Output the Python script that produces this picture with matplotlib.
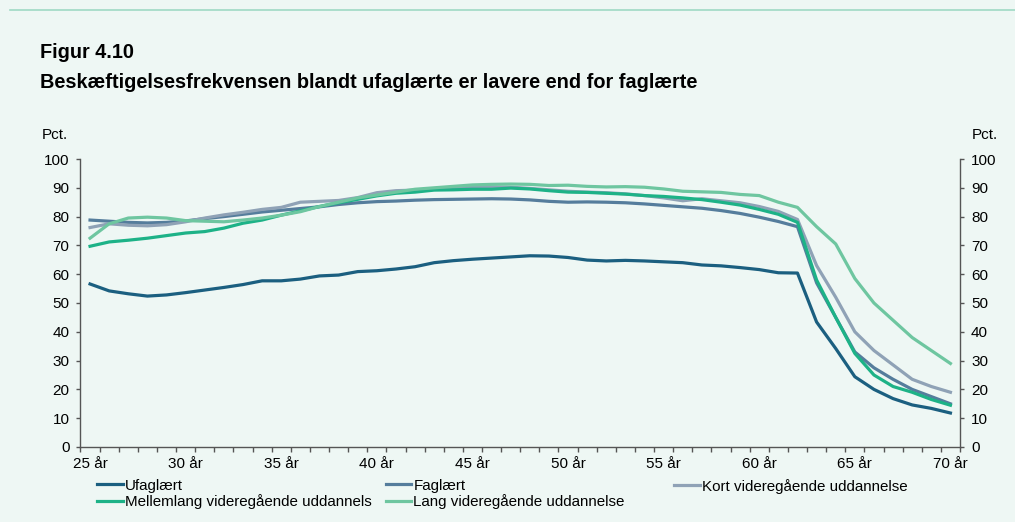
import matplotlib
matplotlib.use("Agg")
import matplotlib.pyplot as plt
import numpy as np
from matplotlib.lines import Line2D

plt.rcParams["font.family"] = ["Liberation Sans", "DejaVu Sans"]

BG = "#EEF7F4"

ages = np.arange(25, 71)
tick_ages = [25, 30, 35, 40, 45, 50, 55, 60, 65, 70]
tick_labels = [f"{a} år" for a in tick_ages]

ufaglaert = [56.6, 54.2, 53.2, 52.4, 52.8, 53.6, 54.5, 55.4, 56.4, 57.7, 57.7, 58.3, 59.4, 59.7,
             60.9, 61.2, 61.8, 62.6, 64.0, 64.7, 65.2, 65.6, 66.0, 66.4, 66.3, 65.8, 64.9, 64.6,
             64.8, 64.6, 64.3, 64.0, 63.2, 62.9, 62.3, 61.6, 60.5, 60.4, 43.4, 34.2, 24.4, 20.0,
             16.8, 14.6, 13.4, 11.8]
faglaert = [78.8, 78.4, 78.0, 77.8, 78.0, 78.5, 79.3, 80.0, 80.8, 81.6, 82.2, 82.8, 83.4, 84.2,
            84.8, 85.2, 85.4, 85.7, 85.9, 86.0, 86.1, 86.2, 86.1, 85.8, 85.3, 85.0, 85.1, 85.0,
            84.8, 84.4, 83.9, 83.4, 82.9, 82.1, 81.1, 79.8, 78.3, 76.5, 57.0, 45.0, 33.0, 27.5,
            23.5, 20.0, 17.5, 15.0]
kort = [76.2, 77.5, 77.0, 76.8, 77.2, 78.2, 79.5, 80.6, 81.5, 82.5, 83.2, 85.0, 85.3, 85.6,
        86.6, 88.3, 89.0, 89.2, 89.6, 90.0, 90.2, 90.3, 90.2, 89.8, 89.3, 88.8, 88.5, 88.3,
        87.9, 87.3, 86.5, 85.5, 86.2, 85.5, 84.8, 83.5, 81.8, 79.0, 63.0, 52.0, 40.0, 33.5,
        28.5, 23.5, 21.0, 19.0]
mellemlang = [69.7, 71.2, 71.8, 72.5, 73.4, 74.3, 74.8, 76.0, 77.7, 78.8, 80.5, 82.0, 83.5, 84.8,
              86.0, 87.2, 88.1, 88.5, 89.2, 89.3, 89.5, 89.5, 89.9, 89.6, 89.0, 88.5, 88.4, 88.1,
              87.8, 87.3, 87.0, 86.5, 85.9, 85.0, 84.0, 82.5, 80.8, 78.0, 58.0, 45.0, 32.5, 25.0,
              21.0, 19.0, 16.5, 14.5]
lang = [72.5, 77.5, 79.5, 79.8, 79.5, 78.6, 78.4, 78.2, 78.8, 79.5, 80.5, 81.7, 83.5, 85.0,
        86.5, 87.5, 88.5, 89.5, 90.0, 90.5, 91.0, 91.2, 91.3, 91.2, 90.8, 90.9, 90.5, 90.3,
        90.4, 90.2, 89.6, 88.8, 88.6, 88.4, 87.7, 87.3, 85.0, 83.2, 76.5, 70.5, 58.5, 50.0,
        44.0, 38.0, 33.5, 29.0]

series = [
    ("Ufaglært", ufaglaert, "#1B5F80"),
    ("Faglært", faglaert, "#557D9C"),
    ("Kort videregående uddannelse", kort, "#8FA2B6"),
    ("Mellemlang videregående uddannels", mellemlang, "#1DB287"),
    ("Lang videregående uddannelse", lang, "#6EC6A0"),
]

fig = plt.figure(figsize=(10.15, 5.22), dpi=100, facecolor=BG)
ax = fig.add_axes([0.0793, 0.1437, 0.8665, 0.5517])
ax.set_facecolor(BG)

handles = {}
for name, vals, col in series:
    (h,) = ax.plot(ages, vals, color=col, lw=2.3, solid_joinstyle="round")
    handles[name] = h

ax.set_xlim(24.5, 70.5)
ax.set_ylim(0, 100)
ax.set_yticks(range(0, 101, 10))
ax.set_xticks(tick_ages)
ax.set_xticklabels(tick_labels)
ax.set_xticks(np.arange(24.5, 71, 1), minor=True)

spine_col = "#555555"
for s in ["left", "right", "bottom"]:
    ax.spines[s].set_color(spine_col)
    ax.spines[s].set_linewidth(1.0)
ax.spines["top"].set_visible(False)

ax.tick_params(axis="y", which="major", direction="out", length=3, width=1.0,
               color=spine_col, labelsize=11, pad=5, left=True, right=True,
               labelleft=True, labelright=True)
ax.tick_params(axis="x", which="major", length=0, labelsize=11, pad=7)
ax.tick_params(axis="x", which="minor", direction="out", length=3.5, width=1.0,
               color=spine_col)

fig.text(0.041, 0.742, "Pct.", fontsize=11, ha="left", va="center")
fig.text(0.957, 0.742, "Pct.", fontsize=11, ha="left", va="center")

fig.text(0.039, 0.900, "Figur 4.10", fontsize=14.3, fontweight="bold", ha="left", va="center")
fig.text(0.039, 0.842, "Beskæftigelsesfrekvensen blandt ufaglærte er lavere end for faglærte",
         fontsize=14.3, fontweight="bold", ha="left", va="center")

fig.add_artist(Line2D([0.01, 1.0], [0.980, 0.980], transform=fig.transFigure,
                      color="#9FD9C5", lw=1.2))

columns = [
    (["Ufaglært", "Mellemlang videregående uddannels"], 0.096),
    (["Faglært", "Lang videregående uddannelse"], 0.380),
    (["Kort videregående uddannelse"], 0.664),
]
for names, x0 in columns:
    fig.legend([handles[n] for n in names], names, loc="upper left",
               bbox_to_anchor=(x0, 0.083), frameon=False, fontsize=10.9,
               handlelength=1.7, handletextpad=0.12, labelspacing=0.12,
               borderaxespad=0, borderpad=0)

fig.savefig("out.png", dpi=100, facecolor=BG)
